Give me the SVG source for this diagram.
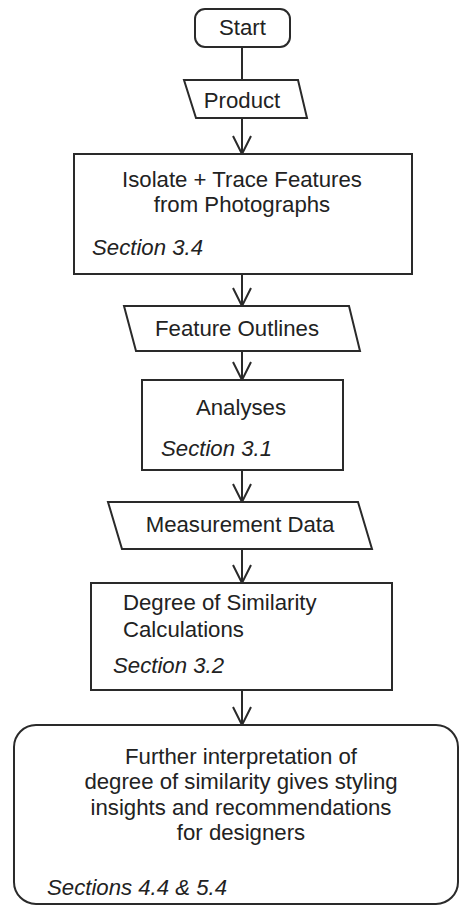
<svg xmlns="http://www.w3.org/2000/svg" width="461" height="906" viewBox="0 0 461 906">
  <style>
    .shape { fill: #ffffff; stroke: #2a2a2a; stroke-width: 2; }
    .conn { fill: none; stroke: #2a2a2a; stroke-width: 2; }
    text { font-family: "Liberation Sans", Arial, sans-serif; font-size: 22.2px; fill: #222222; }
    .c { text-anchor: middle; }
    .it { font-style: italic; }
  </style>
  <defs>
    <marker id="arrow" markerUnits="userSpaceOnUse" viewBox="-20 -11 22 22" refX="0" refY="0" markerWidth="22" markerHeight="22" orient="auto">
      <path d="M-18,-9 L0,0 L-18,9" fill="none" stroke="#2a2a2a" stroke-width="2"/>
    </marker>
  </defs>
  <rect width="461" height="906" fill="#ffffff"/>

  <g id="connectors">
    <line class="conn" x1="242" y1="47" x2="242" y2="80"/>
    <line class="conn" x1="242" y1="118" x2="242" y2="154" marker-end="url(#arrow)"/>
    <line class="conn" x1="242" y1="274" x2="242" y2="306" marker-end="url(#arrow)"/>
    <line class="conn" x1="242" y1="351" x2="242" y2="380" marker-end="url(#arrow)"/>
    <line class="conn" x1="242" y1="470" x2="242" y2="502" marker-end="url(#arrow)"/>
    <line class="conn" x1="242" y1="549" x2="242" y2="583" marker-end="url(#arrow)"/>
    <line class="conn" x1="242" y1="690" x2="242" y2="725" marker-end="url(#arrow)"/>
  </g>

  <g id="start">
    <rect class="shape" x="195" y="9" width="95" height="38" rx="10" ry="10"/>
    <text class="c" x="242.5" y="35">Start</text>
  </g>

  <g id="product">
    <polygon class="shape" points="184,80 298,80 307,118 196,118"/>
    <text class="c" x="242" y="108">Product</text>
  </g>

  <g id="isolate">
    <rect class="shape" x="74" y="154" width="338" height="120"/>
    <text class="c" x="242" y="187">Isolate + Trace Features</text>
    <text class="c" x="242" y="212">from Photographs</text>
    <text class="it" x="92" y="255">Section 3.4</text>
  </g>

  <g id="feature-outlines">
    <polygon class="shape" points="124,306 349,306 360,351 136,351"/>
    <text class="c" x="237" y="336">Feature Outlines</text>
  </g>

  <g id="analyses">
    <rect class="shape" x="142" y="380" width="201" height="90"/>
    <text class="c" x="241" y="415">Analyses</text>
    <text class="it" x="161" y="456">Section 3.1</text>
  </g>

  <g id="measurement-data">
    <polygon class="shape" points="108,502 358,502 372,549 122,549"/>
    <text class="c" x="240" y="532">Measurement Data</text>
  </g>

  <g id="similarity">
    <rect class="shape" x="91" y="583" width="301" height="107"/>
    <text x="123" y="610">Degree of Similarity</text>
    <text x="123" y="637">Calculations</text>
    <text class="it" x="113" y="673">Section 3.2</text>
  </g>

  <g id="interpretation">
    <rect class="shape" x="14" y="725" width="444" height="179" rx="22" ry="22"/>
    <text class="c" x="241" y="764">Further interpretation of</text>
    <text class="c" x="241" y="789">degree of similarity gives styling</text>
    <text class="c" x="241" y="815">insights and recommendations</text>
    <text class="c" x="241" y="840">for designers</text>
    <text class="it" x="47" y="895">Sections 4.4 &amp; 5.4</text>
  </g>
</svg>
